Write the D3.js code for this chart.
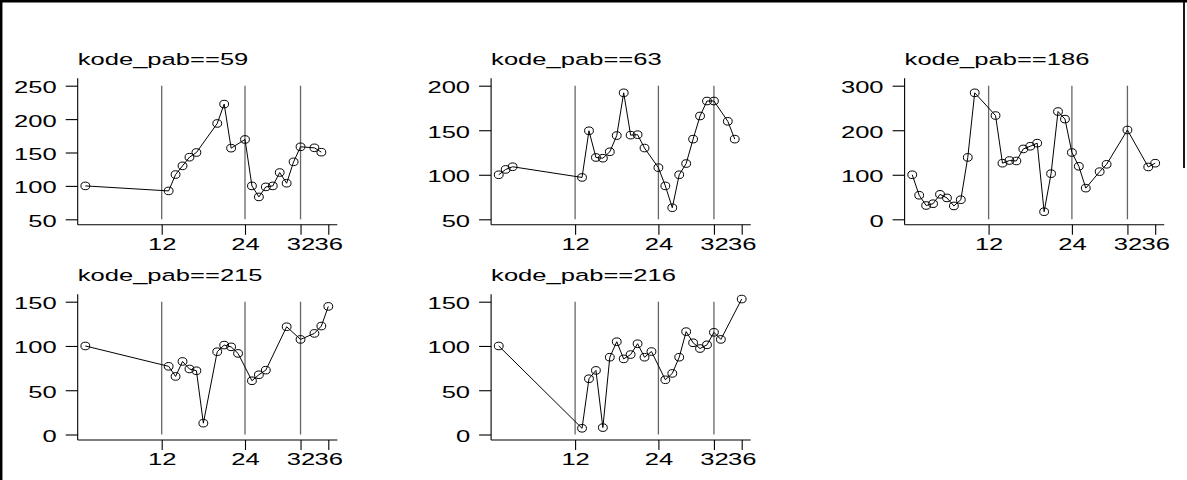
<!DOCTYPE html>
<html>
<head>
<meta charset="utf-8">
<script src="https://cdn.jsdelivr.net/npm/d3@7"></script>
<style>
  body { margin: 0; background: #fff; }
  svg { display: block; font-family: "Liberation Sans", Arial, sans-serif; }
</style>
</head>
<body>
<script>
// width and height
var w = 1187;
var h = 480;

// values
var titles = ["kode_pab==59", "kode_pab==63", "kode_pab==186", "kode_pab==215", "kode_pab==216"];
var xTicks = [12, 24, 32, 36];
var xLines = [12, 24, 32];

var months59 = [1, 13, 14, 15, 16, 17, 20, 21, 22, 24, 25, 26, 27, 28, 29, 30, 31, 32, 34, 35];
var values59 = [100, 92.5, 117, 130, 143, 150, 193.5, 222.5, 156.5, 169.5, 100, 83.5, 98.5, 100, 120, 104, 136, 158.5, 157, 150.5];
var ticks59 = [50, 100, 150, 200, 250];

var months63 = [1, 2, 3, 13, 14, 15, 16, 17, 18, 19, 20, 21, 22, 24, 25, 26, 27, 28, 29, 30, 31, 32, 34, 35];
var values63 = [100, 106, 109, 97, 149.4, 119.4, 118.6, 125.8, 144, 192, 144.5, 145, 130, 108, 87.5, 63, 100, 112.6, 140, 166, 182.8, 182.8, 160, 140];
var ticks63 = [50, 100, 150, 200];

var months186 = [1, 2, 3, 4, 5, 6, 7, 8, 9, 10, 13, 14, 15, 16, 17, 18, 19, 20, 21, 22, 23, 24, 25, 26, 28, 29, 32, 35, 36];
var values186 = [100, 54, 31, 35, 56, 48, 30, 44, 139, 284, 233, 126, 132, 131, 158, 164, 171, 17, 102.5, 242, 225, 150, 119, 70, 107, 123.5, 200.5, 117.5, 126];
var ticks186 = [0, 100, 200, 300];

var months215 = [1, 13, 14, 15, 16, 17, 18, 20, 21, 22, 23, 25, 26, 27, 30, 32, 34, 35, 36];
var values215 = [100, 77, 65.6, 82.5, 74, 72, 12.8, 93.5, 101, 99, 91.6, 60.7, 67.5, 72.7, 121.7, 107.4, 114.2, 122.5, 144.7];
var ticks215 = [0, 50, 100, 150];

var months216 = [1, 13, 14, 15, 16, 17, 18, 19, 20, 21, 22, 23, 25, 26, 27, 28, 29, 30, 31, 32, 33, 36];
var values216 = [100, 7, 63, 72.4, 7.8, 87.3, 104.8, 85.4, 90.3, 102.5, 87.3, 93.7, 61.8, 69, 87.3, 116.2, 103.6, 97.1, 101.3, 115.4, 107.4, 153];
var ticks216 = [0, 50, 100, 150];

var panels = [
  { months: months59, values: values59, ticks: ticks59 },
  { months: months63, values: values63, ticks: ticks63 },
  { months: months186, values: values186, ticks: ticks186 },
  { months: months215, values: values215, ticks: ticks215 },
  { months: months216, values: values216, ticks: ticks216 }
];

// layout (pixels)
var colX = [78.4, 491.8, 905.3];   // where month 0 sits
var plotW = 249.9;                 // month 0 -> month 36
var rowTop = [85.7, 301.7];        // top tick
var rowBot = [219.3, 434.5];       // bottom tick
var fontSize = 16.5;
var stretch = 1.55;                // the text in the reference is wide

var svg = d3.select("body")
  .append("svg")
  .attr("width", w)
  .attr("height", h);

svg.append("rect").attr("width", w).attr("height", h).attr("fill", "#fff");

// frame
svg.append("line").attr("x1", 1.2).attr("x2", 1.2).attr("y1", 0).attr("y2", h)
  .attr("stroke", "#000").attr("stroke-width", 2.5);
svg.append("line").attr("x1", 0).attr("x2", w).attr("y1", 1.2).attr("y2", 1.2)
  .attr("stroke", "#000").attr("stroke-width", 2.5);
svg.append("line").attr("x1", w - 3).attr("x2", w - 3).attr("y1", 0).attr("y2", 168)
  .attr("stroke", "#000").attr("stroke-width", 1.8);

panels.forEach(function (p, i) {
  var col = i % 3;
  var row = Math.floor(i / 3);
  var x0 = colX[col];
  var yTop = rowTop[row];
  var yBot = rowBot[row];
  var axisY = yBot + 5.5;
  var axisX = x0 - 0.7;

  var xScale = d3.scaleLinear().domain([0, 36]).range([x0, x0 + plotW]);
  var yScale = d3.scaleLinear()
    .domain([d3.min(p.ticks), d3.max(p.ticks)])
    .range([yBot, yTop]);

  var g = svg.append("g");

  // title
  g.append("text")
    .attr("transform", "translate(" + axisX + "," + (yTop - 20.5) + ") scale(" + stretch + ",1)")
    .attr("font-size", fontSize)
    .attr("fill", "#000")
    .text(titles[i]);

  // reference lines
  g.selectAll(".xline")
    .data(xLines)
    .enter()
    .append("line")
    .attr("class", "xline")
    .attr("x1", d => xScale(d))
    .attr("x2", d => xScale(d))
    .attr("y1", yScale(d3.max(p.ticks)))
    .attr("y2", yScale(d3.min(p.ticks)))
    .attr("stroke", "#666")
    .attr("stroke-width", 1.3);

  // axis lines
  g.append("line")
    .attr("x1", axisX).attr("x2", axisX)
    .attr("y1", yTop - 7.5).attr("y2", axisY)
    .attr("stroke", "#000").attr("stroke-width", 1.1);
  g.append("line")
    .attr("x1", axisX).attr("x2", xScale(37.3))
    .attr("y1", axisY).attr("y2", axisY)
    .attr("stroke", "#000").attr("stroke-width", 1.1);

  // y axis
  var yAxis = d3.axisLeft(yScale).tickValues(p.ticks).tickSize(12).tickSizeOuter(0);
  var yAxisGroup = g.append("g")
    .attr("transform", "translate(" + axisX + ",0)")
    .call(yAxis);
  yAxisGroup.select(".domain").remove();
  yAxisGroup.selectAll("line").attr("stroke", "#000").attr("stroke-width", 1.1);
  yAxisGroup.selectAll("text")
    .attr("x", null)
    .attr("dy", "0.42em")
    .attr("font-size", fontSize)
    .attr("font-family", null)
    .attr("fill", "#000")
    .attr("transform", "translate(-21,0) scale(" + stretch + ",1)");

  // x axis
  var xAxis = d3.axisBottom(xScale).tickValues(xTicks).tickSize(10).tickSizeOuter(0);
  var xAxisGroup = g.append("g")
    .attr("transform", "translate(0," + axisY + ")")
    .call(xAxis);
  xAxisGroup.select(".domain").remove();
  xAxisGroup.selectAll("line").attr("stroke", "#000").attr("stroke-width", 1.1);
  xAxisGroup.selectAll("text")
    .attr("y", null)
    .attr("dy", null)
    .attr("font-size", fontSize)
    .attr("font-family", null)
    .attr("fill", "#000")
    .attr("transform", "translate(0,25) scale(" + stretch + ",1)");

  // connected line
  var pts = p.months.map((m, k) => [m, p.values[k]]);
  var line = d3.line()
    .x(d => xScale(d[0]))
    .y(d => yScale(d[1]));
  g.append("path")
    .datum(pts)
    .attr("d", line)
    .attr("fill", "none")
    .attr("stroke", "#000")
    .attr("stroke-width", 1);

  // hollow markers
  g.selectAll(".pt")
    .data(pts)
    .enter()
    .append("ellipse")
    .attr("class", "pt")
    .attr("cx", d => xScale(d[0]))
    .attr("cy", d => yScale(d[1]))
    .attr("rx", 4.4)
    .attr("ry", 3.8)
    .attr("fill", "none")
    .attr("stroke", "#000")
    .attr("stroke-width", 1);
});
</script>
</body>
</html>
